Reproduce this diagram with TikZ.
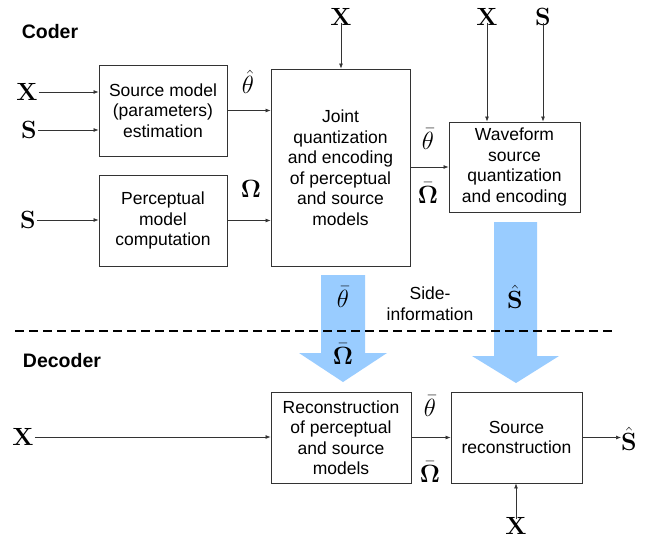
\documentclass[tikz,border=0pt]{standalone}
\usepackage[no-math]{fontspec}
\setmainfont{Liberation Sans}
\usepackage{amsmath}
\usetikzlibrary{arrows.meta}
\definecolor{fatblue}{HTML}{99CCFF}
\definecolor{linegray}{HTML}{333333}
\tikzset{
  blk/.style={draw=linegray, line width=0.9pt, align=center, inner sep=0pt,
    font=\fontsize{17.5}{20.5}\selectfont},
  sym/.style={inner sep=0pt, font=\fontsize{25}{25}\selectfont},
  lbl/.style={inner sep=0pt, font=\fontsize{26}{26}\selectfont},
  conn/.style={draw=linegray, line width=0.7pt, -{Latex[length=5pt,width=4pt]}},
  fat/.style={fill=fatblue, draw=none},
  title/.style={inner sep=0pt, font=\fontsize{19.5}{20}\selectfont\bfseries}
}
\begin{document}
\begin{tikzpicture}[x=1pt,y=-1pt]
\useasboundingbox (0,0) rectangle (660,540);
\fill[white] (0,0) rectangle (660,540);

% titles
\node[title] (coder) at (50,32) {Coder};
\node[title] (decoder) at (62,361) {Decoder};

% coder blocks
\node[blk, minimum width=128pt, minimum height=91pt] (b1) at (163,110.5) {Source model\\(parameters)\\estimation};
\node[blk, minimum width=128pt, minimum height=91pt] (b2) at (163,220.5) {Perceptual\\model\\computation};
\node[blk, minimum width=139pt, minimum height=197pt] (b3) at (340.5,167.5) {Joint\\quantization\\and encoding\\of perceptual\\and source\\models};
\node[blk, minimum width=131pt, minimum height=90pt] (b4) at (514.5,167) {Waveform\\source\\quantization\\and encoding};

% decoder blocks
\node[blk, minimum width=140pt, minimum height=91pt] (b5) at (341,437.5) {Reconstruction\\of perceptual\\and source\\models};
\node[blk, minimum width=131pt, minimum height=91pt] (b6) at (516.5,437.5) {Source\\reconstruction};

% coder inputs
\node[sym] (x1) at (27,92) {$\mathbf{X}$};
\node[sym] (s1) at (29,130) {$\mathbf{S}$};
\node[sym] (s2) at (28,220) {$\mathbf{S}$};
\node[sym] (x2) at (341,17) {$\mathbf{X}$};
\node[sym] (x3) at (487,17) {$\mathbf{X}$};
\node[sym] (s3) at (543,17) {$\mathbf{S}$};

\draw[conn] (x1.east) ++(1pt,0) coordinate (x1e) -- (b1.west |- x1e);
\draw[conn] (s1.east) ++(1pt,0) coordinate (s1e) -- (b1.west |- s1e);
\draw[conn] (s2.east) ++(1pt,0) coordinate (s2e) -- (b2.west |- s2e);
\draw[conn] (x2.south) ++(0,3pt) coordinate (x2s) -- (x2s |- b3.north);
\draw[conn] (x3.south) ++(0,3pt) coordinate (x3s) -- (x3s |- b4.north);
\draw[conn] (s3.south) ++(0,3pt) coordinate (s3s) -- (s3s |- b4.north);

\draw[conn] (b1.east) -- (b3.west |- b1.east);
\draw[conn] (b2.east) -- (b3.west |- b2.east);
\draw[conn] (b3.east |- b4.west) -- (b4.west);

\node[lbl] (thhat) at (248,82) {$\hat{\theta}$};
\node[lbl] (om) at (251,189) {$\mathbf{\Omega}$};
\node[lbl] (thbar1) at (428,139) {$\bar{\theta}$};
\node[lbl] (ombar1) at (428,193) {$\bar{\mathbf{\Omega}}$};

% fat arrows
\fill[fat] (321,275) -- (365,275) -- (365,353) -- (387,353) -- (343,382) -- (299,353) -- (321,353) -- cycle;
\fill[fat] (494,222) -- (537,222) -- (537,356) -- (559,356) -- (516,383) -- (472,356) -- (494,356) -- cycle;
\node[lbl] (thbar2) at (343,297) {$\bar{\theta}$};
\node[lbl] (ombar2) at (343,354) {$\bar{\mathbf{\Omega}}$};
\node[sym] (shat1) at (515,297) {$\hat{\mathbf{S}}$};
\node[blk, draw=none] (side) at (430,303.5) {Side-\\information};

% dashed separator
\draw[line width=2pt, dash pattern=on 8.5pt off 5.5pt] (15,331) coordinate (dl) -- (616,331) coordinate (dr);

% decoder connections
\node[sym] (x4) at (23,437) {$\mathbf{X}$};
\node[sym] (x5) at (516,526) {$\mathbf{X}$};
\node[sym] (shat2) at (629,439) {$\hat{\mathbf{S}}$};
\draw[conn] (x4.east) ++(1pt,0) coordinate (x4e) -- (b5.west |- x4e);
\draw[conn] (b5.east) -- (b6.west);
\draw[conn] (b6.east) -- (shat2.west |- b6.east);
\draw[conn] (x5.north) ++(0,-2pt) coordinate (x5n) -- (x5n |- b6.south);

\node[lbl] (thbar3) at (430,406) {$\bar{\theta}$};
\node[lbl] (ombar3) at (430,472) {$\bar{\mathbf{\Omega}}$};
\end{tikzpicture}
\end{document}
